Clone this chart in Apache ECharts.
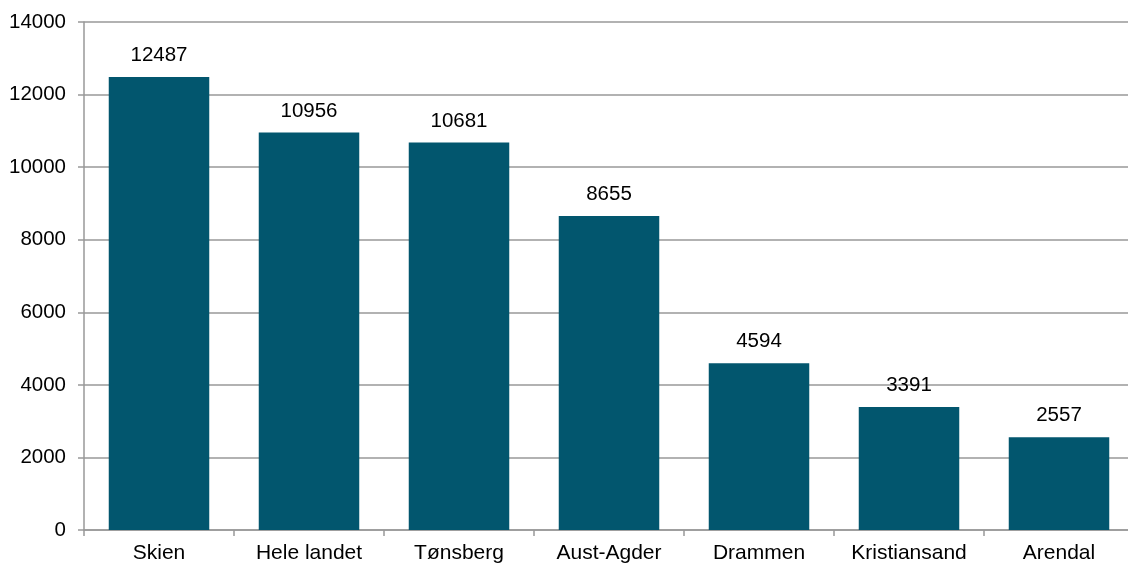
<!DOCTYPE html>
<html><head><meta charset="utf-8">
<script src="https://cdn.jsdelivr.net/npm/echarts@6/dist/echarts.min.js"></script>
<style>html,body{margin:0;padding:0;background:#fff}#c{width:1128px;height:566px}</style>
</head><body><div id="c"></div>
<script>
const categories = ["Skien","Hele landet","Tønsberg","Aust-Agder","Drammen","Kristiansand","Arendal"];
const values = [12487,10956,10681,8655,4594,3391,2557];
const yTicks = {min:0,max:14000,interval:2000};
const font = "Liberation Sans, Arial, sans-serif";
const chart = echarts.init(document.getElementById('c'));
chart.setOption({
  animation:false,
  grid:{left:84,width:1050,top:22,bottom:36,containLabel:false,outerBoundsMode:'none'},
  xAxis:{type:'category',data:categories,
    axisLine:{lineStyle:{color:'#999',width:1.5}},
    axisTick:{show:true,interval:0,length:6,lineStyle:{color:'#999',width:1.5}},
    axisLabel:{color:'#000',fontSize:21,fontFamily:font,margin:13,interval:0,hideOverlap:false}},
  yAxis:{type:'value',min:yTicks.min,max:yTicks.max,interval:yTicks.interval,
    axisLine:{show:true,lineStyle:{color:'#999',width:1.5}},
    axisTick:{show:true,length:6,lineStyle:{color:'#999',width:1.5}},
    splitLine:{lineStyle:{color:'#999',width:1.5}},
    axisLabel:{color:'#000',fontSize:20.5,fontFamily:font,margin:18,formatter:v=>String(v)}},
  series:[{type:'bar',data:values,barCategoryGap:'33%',
    itemStyle:{color:'#02566e'},
    label:{show:true,position:'top',distance:11,color:'#000',fontSize:20.5,fontFamily:font}}]
});
</script></body></html>
